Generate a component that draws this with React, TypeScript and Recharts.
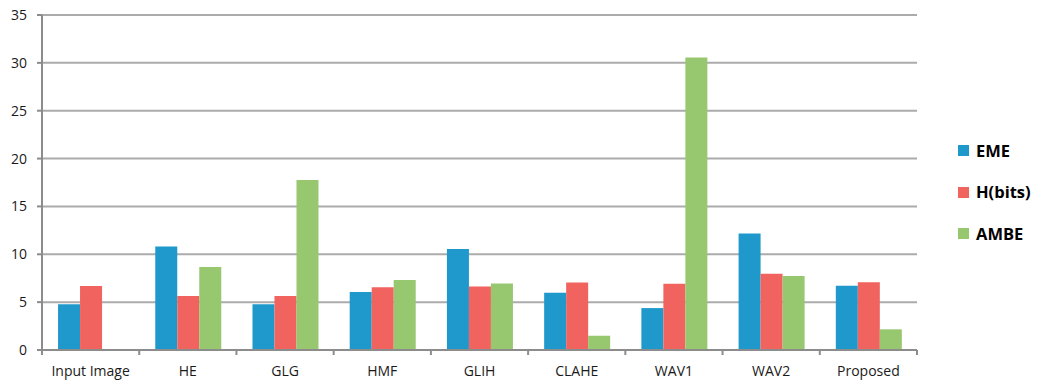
import { BarChart, Bar, XAxis, YAxis, CartesianGrid } from 'recharts';

const methods = ['Input Image', 'HE', 'GLG', 'HMF', 'GLIH', 'CLAHE', 'WAV1', 'WAV2', 'Proposed'];
const emeValues = [4.77, 10.82, 4.77, 6.07, 10.55, 5.97, 4.38, 12.18, 6.71];
const entropyValues = [6.68, 5.64, 5.64, 6.56, 6.63, 7.05, 6.92, 7.97, 7.07];
const ambeValues = [0, 8.66, 17.75, 7.32, 6.94, 1.49, 30.55, 7.72, 2.16];
const yTicks = [0, 5, 10, 15, 20, 25, 30, 35];

const series = [
  { key: 'eme', name: 'EME', color: '#1F98CB' },
  { key: 'hbits', name: 'H(bits)', color: '#F0635E' },
  { key: 'ambe', name: 'AMBE', color: '#97C76F' },
];

const data = methods.map((method, i) => ({
  method,
  eme: emeValues[i],
  hbits: entropyValues[i],
  ambe: ambeValues[i],
}));

const WIDTH = 1038;
const HEIGHT = 387;
const MARGIN = { top: 15, right: 121, bottom: 7, left: 12 };
const AXIS_COLOR = '#8C8C8C';
const FONT = '"Open Sans", sans-serif';

// category label plus tick marks on the band edges
function MethodTick(props: any) {
  const { x, y, payload, index } = props;
  const half = payload?.offset ?? (WIDTH - MARGIN.right - 42) / methods.length / 2;
  return (
    <g>
      <line x1={x - half} x2={x - half} y1={y} y2={y + 5} stroke={AXIS_COLOR} strokeWidth={2} />
      {index === methods.length - 1 && (
        <line x1={x + half} x2={x + half} y1={y} y2={y + 5} stroke={AXIS_COLOR} strokeWidth={2} />
      )}
      <text x={x} y={y + 26} textAnchor="middle" fill="#1A1A1A" fontSize={14} fontFamily={FONT}>
        {payload.value}
      </text>
    </g>
  );
}

export default function App() {
  return (
    <div style={{ position: 'absolute', left: 0, top: 0, width: WIDTH, height: HEIGHT, background: '#fff' }}>
      <BarChart
        width={WIDTH}
        height={HEIGHT}
        data={data}
        margin={MARGIN}
        barCategoryGap="16.5%"
        barGap={0}
      >
        <CartesianGrid vertical={false} stroke="#ABABAB" strokeWidth={2} />
        <XAxis
          dataKey="method"
          height={30}
          interval={0}
          tickLine={false}
          tickSize={0}
          tickMargin={0}
          axisLine={{ stroke: AXIS_COLOR, strokeWidth: 2 }}
          tick={<MethodTick />}
        />
        <YAxis
          width={30}
          domain={[0, 35]}
          ticks={yTicks}
          interval={0}
          tickSize={5}
          tickMargin={10}
          axisLine={{ stroke: AXIS_COLOR, strokeWidth: 2 }}
          tickLine={{ stroke: AXIS_COLOR, strokeWidth: 2 }}
          tick={{ fill: '#1A1A1A', fontSize: 14, fontFamily: FONT }}
        />
        {series.map((s) => (
          <Bar key={s.key} dataKey={s.key} name={s.name} fill={s.color} isAnimationActive={false} />
        ))}
      </BarChart>
      <div style={{ position: 'absolute', left: 958, top: 130, fontFamily: FONT }}>
        {series.map((s) => (
          <div key={s.key} style={{ display: 'flex', alignItems: 'center', height: 41.5 }}>
            <span style={{ width: 11, height: 11, background: s.color, marginRight: 7 }} />
            <span style={{ fontSize: 16.5, fontWeight: 700, color: '#000', lineHeight: '22px' }}>{s.name}</span>
          </div>
        ))}
      </div>
    </div>
  );
}
